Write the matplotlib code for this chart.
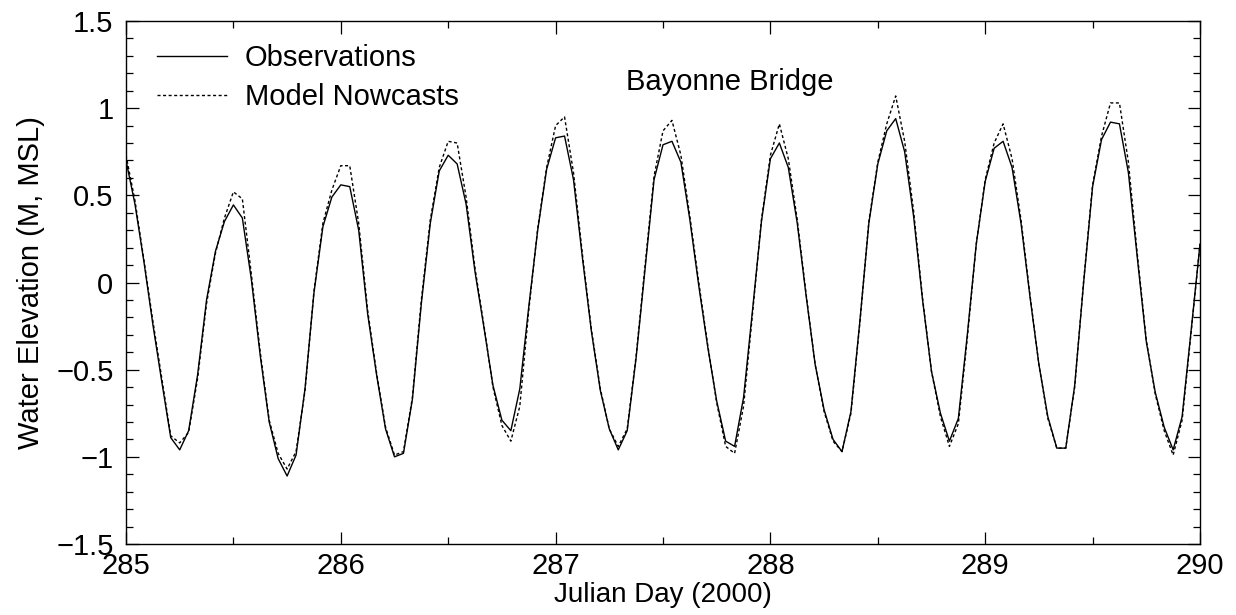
import numpy as np
import matplotlib.pyplot as plt
from matplotlib.ticker import MultipleLocator, FuncFormatter

plt.rcParams['font.family'] = ['Liberation Sans', 'DejaVu Sans']

# hourly samples, Julian day 285.0 -> 290.0
day_start = 285.0
hours = np.arange(121)

observations = [
    0.70, 0.45, 0.12, -0.24, -0.57, -0.89, -0.96, -0.85, -0.53, -0.10,
    0.18, 0.35, 0.445, 0.37, 0.02, -0.42, -0.80, -1.01, -1.11, -0.99,
    -0.61, -0.06, 0.32, 0.49, 0.56, 0.55, 0.30, -0.18, -0.53, -0.84,
    -1.00, -0.98, -0.67, -0.12, 0.34, 0.64, 0.73, 0.68, 0.45, 0.06,
    -0.26, -0.59, -0.79, -0.85, -0.61, -0.14, 0.30, 0.65, 0.83, 0.84,
    0.59, 0.14, -0.28, -0.62, -0.84, -0.96, -0.85, -0.43, 0.08, 0.59,
    0.79, 0.81, 0.69, 0.36, -0.02, -0.37, -0.68, -0.91, -0.94, -0.66,
    -0.16, 0.35, 0.71, 0.80, 0.66, 0.34, -0.08, -0.47, -0.73, -0.90,
    -0.97, -0.74, -0.22, 0.34, 0.68, 0.87, 0.94, 0.75, 0.38, -0.10,
    -0.51, -0.75, -0.91, -0.78, -0.30, 0.22, 0.58, 0.77, 0.81, 0.66,
    0.34, -0.08, -0.47, -0.77, -0.95, -0.95, -0.59, 0.00, 0.55, 0.82,
    0.92, 0.91, 0.63, 0.14, -0.34, -0.63, -0.83, -0.96, -0.77, -0.28,
    0.22,
]

nowcasts = [
    0.73, 0.47, 0.13, -0.22, -0.55, -0.88, -0.92, -0.86, -0.55, -0.12,
    0.17, 0.37, 0.52, 0.48, 0.05, -0.40, -0.79, -0.98, -1.07, -0.97,
    -0.62, -0.05, 0.34, 0.53, 0.67, 0.67, 0.34, -0.16, -0.52, -0.83,
    -0.99, -0.97, -0.66, -0.10, 0.36, 0.66, 0.81, 0.80, 0.49, 0.08,
    -0.25, -0.60, -0.82, -0.91, -0.71, -0.16, 0.31, 0.66, 0.90, 0.95,
    0.63, 0.16, -0.27, -0.61, -0.84, -0.94, -0.84, -0.42, 0.10, 0.61,
    0.87, 0.93, 0.73, 0.38, 0.00, -0.36, -0.69, -0.94, -0.98, -0.71,
    -0.18, 0.36, 0.73, 0.91, 0.71, 0.36, -0.07, -0.47, -0.74, -0.91,
    -0.97, -0.75, -0.23, 0.35, 0.69, 0.91, 1.07, 0.81, 0.41, -0.09,
    -0.51, -0.77, -0.94, -0.81, -0.32, 0.22, 0.59, 0.80, 0.91, 0.71,
    0.36, -0.07, -0.47, -0.78, -0.95, -0.95, -0.60, 0.01, 0.56, 0.84,
    1.03, 1.03, 0.69, 0.16, -0.33, -0.64, -0.85, -0.99, -0.79, -0.29,
    0.22,
]

days = day_start + hours / 24.0

fig = plt.figure(figsize=(12.36, 6.15), dpi=100)
ax = fig.add_axes([126 / 1236, 71 / 615, 1074 / 1236, 523 / 615])

ax.plot(days, observations, color='black', lw=1.0, label='Observations')
ax.plot(days, nowcasts, color='black', lw=1.0, linestyle=(0, (2.2, 1.8)),
        label='Model Nowcasts')

ax.set_xlim(285, 290)
ax.set_ylim(-1.5, 1.5)
ax.xaxis.set_major_locator(MultipleLocator(1))
ax.xaxis.set_minor_locator(MultipleLocator(0.5))
ax.yaxis.set_major_locator(MultipleLocator(0.5))
ax.yaxis.set_minor_locator(MultipleLocator(0.1))
ax.yaxis.set_major_formatter(FuncFormatter(lambda v, p: ('%g' % v).replace('-', '\u2212')))

ax.tick_params(which='both', direction='in', top=True, right=True, width=0.9)
ax.tick_params(which='major', length=9)
ax.tick_params(which='minor', length=5)
ax.tick_params(axis='x', labelsize=21, pad=6)
ax.tick_params(axis='y', labelsize=21, pad=9)
for s in ax.spines.values():
    s.set_linewidth(1.0)

ax.set_xlabel('Julian Day (2000)', fontsize=20, labelpad=1)
ax.set_ylabel('Water Elevation (M, MSL)', fontsize=21, labelpad=8)

ax.text(287.81, 1.15, 'Bayonne Bridge', fontsize=21, ha='center', va='center')

ax.legend(loc='upper left', bbox_to_anchor=(0.021, 0.972), frameon=False,
          fontsize=21, handlelength=2.4, handletextpad=0.6,
          labelspacing=0.38, borderaxespad=0.0, borderpad=0.3)

fig.savefig('out.png', dpi=100)
